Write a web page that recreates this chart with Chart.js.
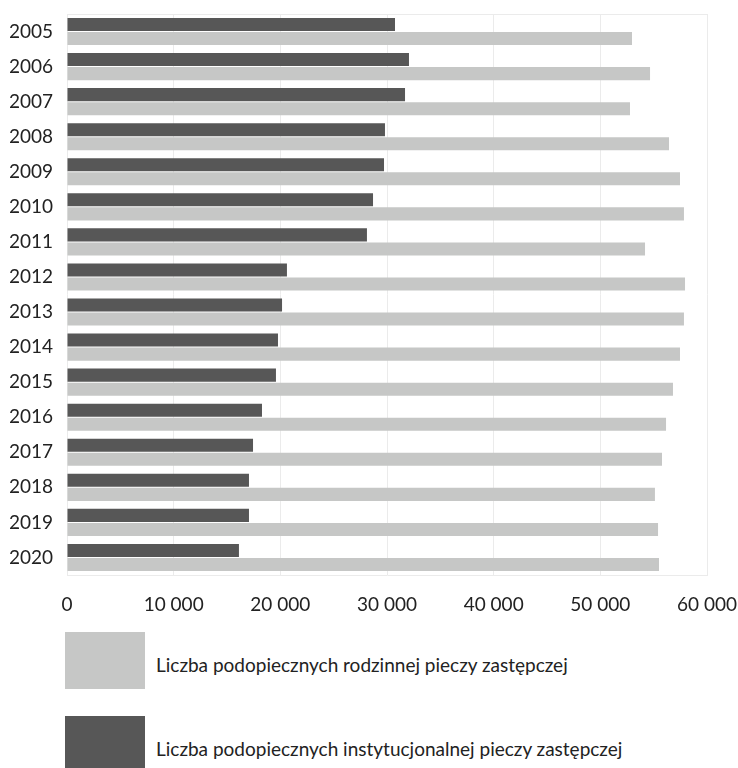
<!DOCTYPE html>
<html>
<head>
<meta charset="utf-8">
<script src="https://cdn.jsdelivr.net/npm/chart.js@4/dist/chart.umd.min.js"></script>
<style>
  body { margin: 0; background: #fff; font-family: Lato, 'Open Sans', sans-serif; }
  #wrap { position: relative; width: 738px; height: 768px; overflow: hidden; }
  #chartBox { position: absolute; left: 0; top: 0; width: 738px; height: 625px; }
  .leg { position: absolute; left: 65px; display: flex; align-items: center; font-size: 19px; color: #222; }
  .leg span.box { display: inline-block; width: 80px; height: 57px; margin-right: 11px; }
  .leg span.txt { position: relative; top: 4px; }
</style>
</head>
<body>
<div id="wrap">
  <div id="chartBox"><canvas id="bars"></canvas></div>
  <div class="leg" style="top:632px"><span class="box" style="background:#c6c7c6"></span><span class="txt">Liczba podopiecznych rodzinnej pieczy zastępczej</span></div>
  <div class="leg" style="top:716px"><span class="box" style="background:#575757"></span><span class="txt">Liczba podopiecznych instytucjonalnej pieczy zastępczej</span></div>
</div>
<script>
const years = ['2005', '2006', '2007', '2008', '2009', '2010', '2011', '2012',
               '2013', '2014', '2015', '2016', '2017', '2018', '2019', '2020'];
const instytucjonalna = [30750, 32060, 31690, 29810, 29720, 28690, 28120, 20620,
                         20160, 19780, 19590, 18280, 17440, 17060, 17060, 16120];
const rodzinna = [52970, 54660, 52780, 56440, 57470, 57840, 54190, 57940,
                  57840, 57470, 56810, 56160, 55780, 55120, 55410, 55500];
const xTicks = [0, 10000, 20000, 30000, 40000, 50000, 60000];

// ramka wokół obszaru wykresu
const frame = {
  id: 'frame',
  beforeDatasetsDraw(chart) {
    const a = chart.chartArea, ctx = chart.ctx;
    ctx.save();
    ctx.strokeStyle = '#ebebeb';
    ctx.lineWidth = 1;
    ctx.beginPath();
    ctx.moveTo(a.left, a.top + 0.5);
    ctx.lineTo(a.right, a.top + 0.5);
    ctx.stroke();
    ctx.restore();
  }
};

function fmt(v) {
  return String(v).replace(/\B(?=(\d{3})+(?!\d))/g, ' ');
}

new Chart(document.getElementById('bars'), {
  type: 'bar',
  data: {
    labels: years,
    datasets: [
      { label: 'Liczba podopiecznych instytucjonalnej pieczy zastępczej', data: instytucjonalna,
        backgroundColor: '#575757', categoryPercentage: 0.8, barPercentage: 0.93 },
      { label: 'Liczba podopiecznych rodzinnej pieczy zastępczej', data: rodzinna,
        backgroundColor: '#c6c7c6', categoryPercentage: 0.8, barPercentage: 0.93 }
    ]
  },
  options: {
    indexAxis: 'y',
    responsive: true,
    maintainAspectRatio: false,
    animation: false,
    layout: { padding: { left: 10, right: 31, top: 14, bottom: 0 } },
    plugins: { legend: { display: false }, tooltip: { enabled: false } },
    scales: {
      x: {
        min: 0, max: 60000,
        afterBuildTicks: axis => { axis.ticks = xTicks.map(v => ({ value: v })); },
        afterFit: axis => { axis.height = 50; axis.paddingLeft = 0; axis.paddingRight = 0; },
        grid: { color: '#ebebeb', drawTicks: false },
        border: { color: '#ebebeb' },
        ticks: { padding: 18, color: '#222', font: { family: 'Lato', size: 19 }, callback: v => fmt(v) }
      },
      y: {
        afterFit: axis => { axis.width = 57; axis.paddingTop = 0; axis.paddingBottom = 0; },
        grid: { display: false, drawTicks: false },
        border: { display: false },
        ticks: { padding: 14, color: '#222', font: { family: 'Lato', size: 19 } }
      }
    }
  },
  plugins: [frame]
});
</script>
</body>
</html>
